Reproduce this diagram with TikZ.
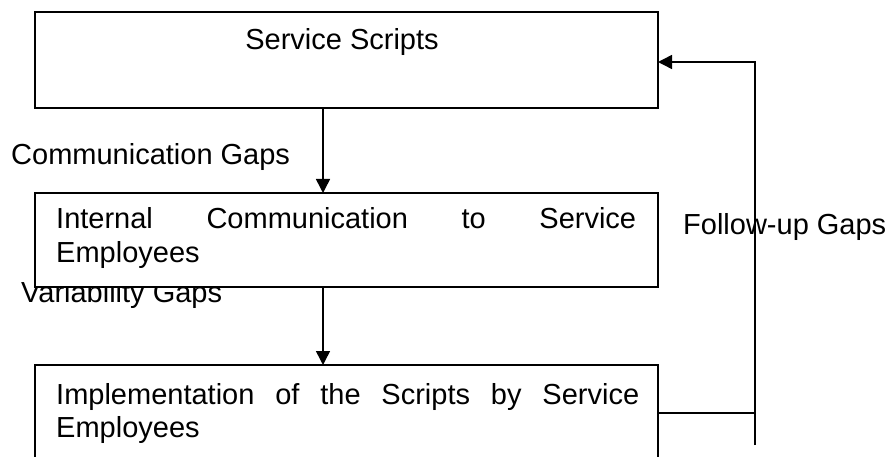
\documentclass[tikz,border=0pt]{standalone}
\usepackage{fontspec}
\setmainfont{Liberation Sans}
\usetikzlibrary{arrows.meta}
\begin{document}
\begin{tikzpicture}[x=1pt,y=-1pt,
  box/.style={draw, fill=white, line width=1.5pt, minimum width=623pt, inner sep=0pt, outer sep=0pt, anchor=north west},
  lbl/.style={font=\fontsize{29}{33}\selectfont, inner sep=0pt, anchor=base west},
  conn/.style={line width=1.5pt},
  arr/.style={conn, -{Triangle[length=14pt,width=14pt]}}]
\useasboundingbox (0,0) rectangle (891,457);
\clip (0,0) rectangle (891,457);
% gap labels (drawn first, boxes overlap them)
\node[lbl] (cg) at (11,165) {Communication Gaps};
\node[lbl] (vg) at (21,302) {Variability Gaps};
\node[lbl] (fg) at (683,234) {Follow-up Gaps};
% boxes
\node[box, minimum height=96pt] (ss) at (35,12) {};
\node[box, minimum height=94pt] (ic) at (35,193) {};
\node[box, minimum height=120pt] (im) at (35,365) {};
% box texts
\node[lbl, anchor=base] (sst) at (342,50) {Service Scripts};
\node[lbl] (ic1) at (56,229) {\makebox[580pt][s]{Internal Communication to Service}};
\node[lbl] (ic2) at (56,262) {Employees};
\node[lbl] (im1) at (56,404) {\makebox[583pt][s]{Implementation of the Scripts by Service}};
\node[lbl] (im2) at (56,437) {Employees};
% connectors
\coordinate (ax) at (323,0);
\draw[arr] (ss.south -| ax) -- (ic.north -| ax);
\draw[arr] (ic.south -| ax) -- (im.north -| ax);
\coordinate (fy) at (0,413);
\coordinate (ty) at (0,62);
\coordinate (lx) at (755,0);
\coordinate (lend) at (755,445);
\draw[conn] (im.east |- fy) -- (lx |- fy);
\draw[arr] (lend) -- (lx |- ty) -- (ss.east |- ty);
\end{tikzpicture}
\end{document}
